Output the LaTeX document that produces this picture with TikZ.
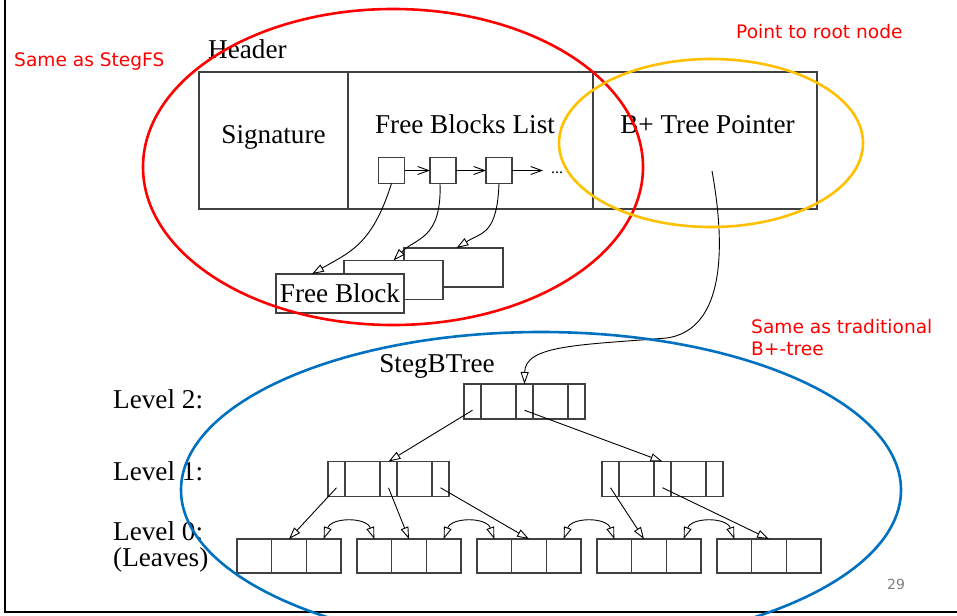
\documentclass[tikz,border=0pt]{standalone}
\usepackage{fontspec}
\setmainfont{Liberation Serif}
\newfontfamily\notefont{DejaVu Sans}
\usetikzlibrary{positioning,calc,arrows.meta}
\tikzset{>={Triangle[open,length=12pt,width=8pt]}}
\definecolor{slide_red}{RGB}{255,0,0}
\definecolor{slide_gold}{RGB}{255,192,0}
\definecolor{slide_blue}{RGB}{0,112,192}
\definecolor{slide_gray}{RGB}{128,128,128}

% one B+ tree node: pointer/key/pointer/key/pointer
\newcommand{\treenode}[2]{%
  \node[ptrcell,anchor=west] (#1a) at (#2) {};
  \node[keycell,right=0pt of #1a] (#1b) {};
  \node[ptrcell,right=0pt of #1b] (#1c) {};
  \node[keycell,right=0pt of #1c] (#1d) {};
  \node[ptrcell,right=0pt of #1d] (#1e) {};
}
% one leaf: three equal cells
\newcommand{\leafnode}[2]{%
  \node[leafcell,anchor=west] (#1a) at (#2) {};
  \node[leafcell,right=0pt of #1a] (#1b) {};
  \node[leafcell,right=0pt of #1b] (#1c) {};
}

\begin{document}
\begin{tikzpicture}[x=1pt,y=-1pt,
    cell/.style={draw=black!75, line width=1.1pt, inner sep=0pt, outer sep=0pt},
    hcell/.style={cell, minimum height=137pt},
    ptrcell/.style={cell, minimum width=17pt, minimum height=35pt},
    keycell/.style={cell, minimum width=35pt, minimum height=35pt},
    leafcell/.style={cell, minimum width=34.67pt, minimum height=34pt},
    sqbox/.style={cell, minimum size=26pt},
    blockbox/.style={cell, fill=white, minimum height=39pt},
    figtext/.style={font=\fontsize{27.2}{30}\selectfont, inner sep=0pt},
    notetext/.style={font=\notefont\fontsize{18.6}{22}\selectfont, text=slide_red, inner sep=0pt, anchor=base west},
    ptrline/.style={->, line width=0.9pt},
    chainarrow/.style={-{Straight Barb[length=11pt,width=8pt]}, line width=0.9pt},
    ringline/.style={line width=2.6pt},
  ]
  \useasboundingbox (0,0) rectangle (957,615);
  \clip (0,0) rectangle (957,615);

  % slide frame
  \draw[line width=2.2pt] (5,0) -- (5,612) -- (957,612);

  % Header
  \node[figtext,anchor=base west] (hdr) at (208,59) {Header};
  \node[hcell,minimum width=149pt,anchor=north west] (sig) at (199,72) {};
  \node[hcell,minimum width=245pt,right=0pt of sig] (fbl) {};
  \node[hcell,minimum width=224pt,right=0pt of fbl] (bpt) {};
  \node[figtext] (sigtext) at (273.5,137) {Signature};
  \node[figtext] (fbltext) at (465,124) {Free Blocks List};
  \node[figtext] (bpttext) at (707.5,125) {B+ Tree Pointer};

  % free block list
  \node[sqbox] (sq1) at (391.5,170.5) {};
  \node[sqbox] (sq2) at (443,170.5) {};
  \node[sqbox] (sq3) at (499,170.5) {};
  \coordinate (chainend) at (543,170.5);
  \node[font=\fontsize{16}{16}\selectfont,inner sep=0pt,anchor=base west] (dots) at (551,173) {...};
  \draw[chainarrow] (sq1) -- (sq2);
  \draw[chainarrow] (sq2) -- (sq3);
  \draw[chainarrow] (sq3) -- (chainend);

  % free blocks
  \node[blockbox,minimum width=99pt] (blk3) at (453.5,267.5) {};
  \node[blockbox,minimum width=99pt] (blk2) at (393.5,280) {};
  \node[blockbox,minimum width=128pt,figtext] (blk1) at (340,293.5) {Free Block};
  \draw[ptrline] (sq1.south) .. controls (372,245) and (350,252) .. ($(blk1.north)+(-28,0)$);
  \draw[ptrline] ($(sq2.south)+(-3,0)$) .. controls (442,240) and (415,238) .. (blk2.north);
  \draw[ptrline] (sq3.south) .. controls (497,235) and (482,232) .. ($(blk3.north)+(3,0)$);

  % StegBTree
  \node[figtext,anchor=base] (tree) at (437,372) {StegBTree};
  \node[figtext,anchor=base west] (lvl2) at (113,408) {Level 2:};
  \node[figtext,anchor=base west] (lvl1) at (113,480) {Level 1:};
  \node[figtext,anchor=base west] (lvl0) at (113,540) {Level 0:};
  \node[figtext,anchor=base west] (leaves) at (113,566) {(Leaves)};

  \treenode{l2}{464,401.5}
  \treenode{l1L}{328,479}
  \treenode{l1R}{602,479}
  \foreach \i/\x in {1/237,2/357,3/477,4/597,5/717}
    \leafnode{lf\i}{\x,556};

  \coordinate (bptsrc) at (712,171);
  \draw[ptrline] (bptsrc) .. controls (728,260) and (720,330) .. (667,338)
    .. controls (580,345) and (525,345) .. (l2c.north);

  \draw[ptrline] ($(l2a)!0.5!(l2a.south)$) -- (l1Lc.north);
  \draw[ptrline] ($(l2c)!0.5!(l2c.south)$) -- (l1Rc.north);
  \draw[ptrline] ($(l1La)!0.5!(l1La.south)$) -- (lf1b.north);
  \draw[ptrline] ($(l1Lc)!0.5!(l1Lc.south)$) -- (lf2b.north);
  \draw[ptrline] ($(l1Le)!0.5!(l1Le.south)$) -- (lf3b.north);
  \draw[ptrline] ($(l1Ra)!0.5!(l1Ra.south)$) -- ($(lf4b.north)+(-5,0)$);
  \draw[ptrline] ($(l1Rc)!0.5!(l1Rc.south)$) -- (lf5b.north);
  \foreach \i/\j in {1/2,2/3,3/4,4/5}
    \draw[<->, line width=0.9pt] (lf\i c.north) .. controls +(8,-22) and +(-8,-22) .. (lf\j a.north);

  % annotations
  \draw[ringline,slide_red] (393,167) ellipse [x radius=250pt, y radius=158pt];
  \draw[ringline,slide_gold] (711,143) ellipse [x radius=152pt, y radius=84pt];
  \draw[ringline,slide_blue] (541,490) ellipse [x radius=360pt, y radius=158pt];
  \node[notetext] (n1) at (14,67) {Same as StegFS};
  \node[notetext] (n2) at (736,38.5) {Point to root node};
  \node[notetext] (n3) at (751,333.5) {Same as traditional};
  \node[notetext] (n4) at (751,355.5) {B+-tree};
  \node[font=\notefont\fontsize{14}{16}\selectfont, text=slide_gray, inner sep=0pt, anchor=base west] (pg) at (887,589) {29};
\end{tikzpicture}
\end{document}
